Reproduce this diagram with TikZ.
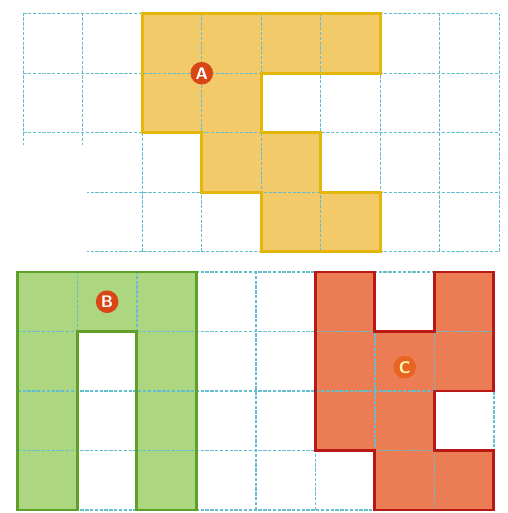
\documentclass[tikz,border=0pt]{standalone}
\usepackage{tikz}
\definecolor{gridcyan}{RGB}{100,190,205}
\definecolor{fillA}{RGB}{242,202,105}
\definecolor{edgeA}{RGB}{228,182,10}
\definecolor{fillB}{RGB}{172,214,128}
\definecolor{edgeB}{RGB}{95,160,40}
\definecolor{fillC}{RGB}{236,124,84}
\definecolor{edgeC}{RGB}{185,25,20}
\definecolor{tagred}{RGB}{215,70,20}
\definecolor{tagorange}{RGB}{232,100,35}

\begin{document}
\begin{tikzpicture}[
    gridline/.style={gridcyan,line width=0.6pt,dash pattern=on 1.6pt off 0.7pt},
    edge/.style={line width=1.4pt,line join=miter},
    tag/.style={circle,fill=tagred,text=white,inner sep=0pt,minimum size=0.38cm,font=\sffamily\bfseries\footnotesize}]
    \useasboundingbox (0,0) rectangle (8.52,8.62);
    % upper sheet with A
    \begin{scope}[shift={(0.39,4.39)}]
      \fill[fillA] (2,4) -- (6,4) -- (6,3) -- (4,3) -- (4,2) -- (5,2) -- (5,1) -- (6,1)
        -- (6,0) -- (4,0) -- (4,1) -- (3,1) -- (3,2) -- (2,2) -- cycle;
      \draw[gridline] (0,0) grid (8,4);
      \fill[white] (-0.39,-0.1) rectangle (1.07,1.79);
      \draw[edgeA,edge] (2,4) -- (6,4) -- (6,3) -- (4,3) -- (4,2) -- (5,2) -- (5,1) -- (6,1)
        -- (6,0) -- (4,0) -- (4,1) -- (3,1) -- (3,2) -- (2,2) -- cycle;
      \node[tag] (tagA) at (3,3) {A};
    \end{scope}
    % lower sheet with B and C
    \begin{scope}[shift={(0.30,0.05)}]
      \fill[fillB] (0,4) -- (3,4) -- (3,0) -- (2,0) -- (2,3) -- (1,3) -- (1,0) -- (0,0) -- cycle;
      \fill[fillC] (5,4) -- (6,4) -- (6,3) -- (7,3) -- (7,4) -- (8,4) -- (8,2) -- (7,2)
        -- (7,1) -- (8,1) -- (8,0) -- (6,0) -- (6,1) -- (5,1) -- cycle;
      \draw[gridline] (0,0) grid (8,4);
      \draw[edgeB,edge] (0,4) -- (3,4) -- (3,0) -- (2,0) -- (2,3) -- (1,3) -- (1,0) -- (0,0) -- cycle;
      \draw[edgeC,edge] (5,4) -- (6,4) -- (6,3) -- (7,3) -- (7,4) -- (8,4) -- (8,2) -- (7,2)
        -- (7,1) -- (8,1) -- (8,0) -- (6,0) -- (6,1) -- (5,1) -- cycle;
      \node[tag] (tagB) at (1.5,3.5) {B};
      \node[tag,fill=tagorange,text=yellow!30] (tagC) at (6.5,2.4) {C};
    \end{scope}
\end{tikzpicture}
\end{document}
